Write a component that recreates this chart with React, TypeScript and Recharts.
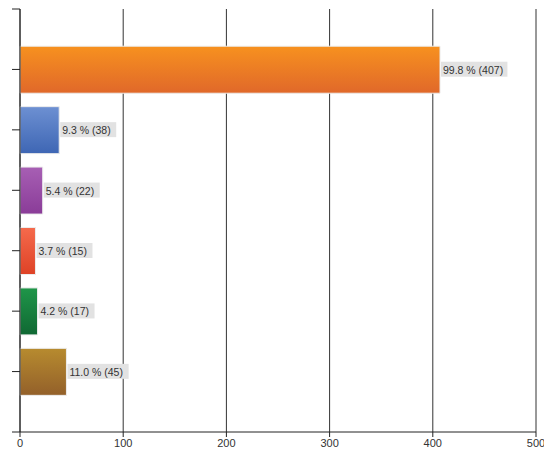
import React from 'react';
import { BarChart, Bar, XAxis, YAxis, CartesianGrid, Cell, LabelList } from 'recharts';

const categories = ['A', 'B', 'C', 'D', 'E', 'F'];
const counts = [407, 38, 22, 15, 17, 45];
const percents = ['99.8', '9.3', '5.4', '3.7', '4.2', '11.0'];
const xTicks = [0, 100, 200, 300, 400, 500];
const yTicks = [0, 1, 2, 3, 4, 5, 6, 7];

const gradients = [
  ['#f7911f', '#e0682a'],
  ['#6d90d2', '#3e66b4'],
  ['#a75fb4', '#8a3c98'],
  ['#f56a4c', '#de4226'],
  ['#1f9649', '#106833'],
  ['#b78b2f', '#93602a'],
];

const data = categories.map((c, i) => ({
  name: c,
  pos: i + 1,
  count: counts[i],
  pct: percents[i],
}));

const ValueLabel = (props: any) => {
  const { x, y, width, height, index } = props;
  const text = `${percents[index]} % (${counts[index]})`;
  const w = text.length * 5.2 + 4;
  const cy = y + height / 2;
  return (
    <g>
      <rect x={x + width + 1} y={cy - 8} width={w} height={15} fill="#e2e2e2" />
      <text x={x + width + 3} y={cy + 4} fontSize={10.5} fill="#333" fontFamily="'Liberation Sans', Arial, sans-serif">
        {text}
      </text>
    </g>
  );
};

const App = () => (
  <BarChart
    width={544}
    height={451}
    data={data}
    layout="vertical"
    margin={{ top: 1, right: 16, left: 0, bottom: 0 }}
    style={{ fontFamily: "'Liberation Sans', Arial, sans-serif" }}
  >
    <defs>
      {gradients.map((g, i) => (
        <linearGradient key={i} id={`grad${i}`} x1="0" y1="0" x2="0" y2="1">
          <stop offset="0%" stopColor={g[0]} />
          <stop offset="100%" stopColor={g[1]} />
        </linearGradient>
      ))}
    </defs>
    <CartesianGrid horizontal={false} stroke="#333" strokeDasharray="" />
    <XAxis
      type="number"
      domain={[0, 500]}
      ticks={xTicks}
      stroke="#222"
      tickSize={5}
      tick={{ fontSize: 11, fill: '#333' }}
      height={27}
      interval={0}
    />
    <YAxis
      type="number"
      dataKey="pos"
      domain={[0, 7]}
      ticks={yTicks}
      width={12}
      tickSize={8}
      stroke="#222"
      tickFormatter={() => ''}
      interval={0}
    />
    <Bar dataKey="count" barSize={47} isAnimationActive={false} stroke="#ececec" strokeWidth={1}>
      {data.map((d, i) => (
        <Cell key={d.name} fill={`url(#grad${i})`} />
      ))}
      <LabelList dataKey="count" content={ValueLabel} />
    </Bar>
  </BarChart>
);

export default App;
